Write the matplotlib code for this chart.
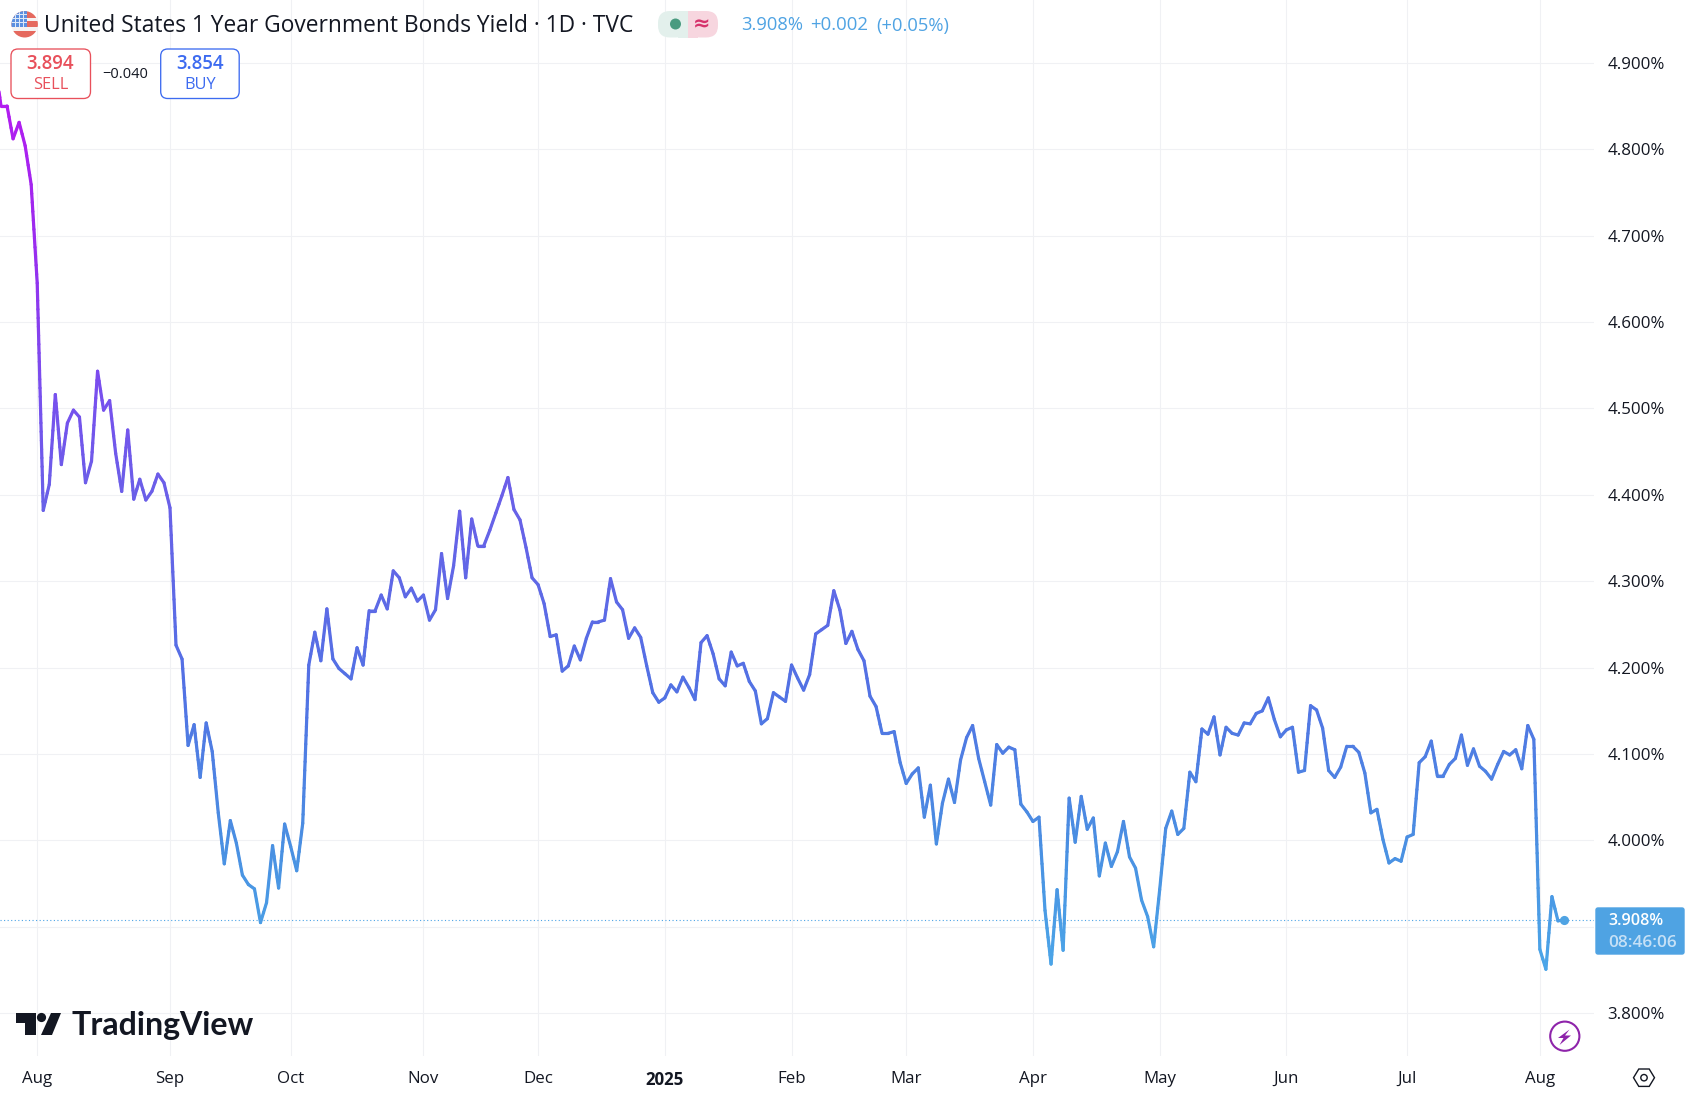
import numpy as np
import matplotlib
matplotlib.use("Agg")
import matplotlib.pyplot as plt
from matplotlib.collections import LineCollection
from matplotlib.colors import LinearSegmentedColormap
from matplotlib.patches import Circle, FancyBboxPatch, Polygon, Rectangle

plt.rcParams['font.family'] = ['Open Sans', 'DejaVu Sans']

# the first value lies just left of the visible pane (bar -1)
yields = [
    4.90, 4.85, 4.85, 4.812, 4.831, 4.804, 4.759, 4.645, 4.382, 4.412, 4.516, 4.435, 4.483, 4.498, 4.49, 4.414,
    4.439, 4.543, 4.498, 4.509, 4.448, 4.404, 4.475, 4.395, 4.418, 4.394, 4.404, 4.424, 4.414, 4.385,
    4.226, 4.21, 4.11, 4.134, 4.073, 4.136, 4.103, 4.032, 3.973, 4.023, 3.997, 3.96, 3.949, 3.944, 3.905,
    3.928, 3.994, 3.945, 4.019, 3.993, 3.965, 4.02,
    4.203, 4.241, 4.208, 4.268, 4.21, 4.199, 4.193, 4.187, 4.223, 4.203, 4.266, 4.266, 4.284, 4.268, 4.312,
    4.304, 4.282, 4.292, 4.277, 4.284, 4.255, 4.267, 4.332, 4.28, 4.318, 4.381, 4.304, 4.372, 4.341, 4.341,
    4.359, 4.379, 4.399, 4.42,
    4.383, 4.371, 4.339, 4.304, 4.296, 4.274, 4.236, 4.238, 4.196, 4.202, 4.225, 4.209, 4.234, 4.253, 4.253,
    4.255, 4.303, 4.276, 4.267, 4.234, 4.246, 4.235, 4.202, 4.171, 4.16, 4.165, 4.18, 4.172, 4.189, 4.177,
    4.163, 4.229, 4.237, 4.216, 4.187, 4.179, 4.218, 4.202, 4.205, 4.184, 4.173, 4.135, 4.141, 4.171, 4.166,
    4.161, 4.203, 4.188, 4.174, 4.192, 4.239, 4.244, 4.249, 4.289, 4.267, 4.228, 4.242, 4.221, 4.208, 4.167,
    4.155, 4.124, 4.124, 4.126, 4.09, 4.066, 4.077, 4.084, 4.027, 4.064, 3.996, 4.043, 4.071, 4.044, 4.093,
    4.119, 4.133, 4.095, 4.068, 4.041, 4.111, 4.101, 4.108, 4.105, 4.042, 4.033, 4.022, 4.027, 3.919, 3.857,
    3.943, 3.873, 4.049, 3.998, 4.051, 4.013, 4.026, 3.959, 3.997, 3.97, 3.987, 4.022, 3.981, 3.968, 3.931,
    3.912, 3.877, 3.943, 4.014, 4.034, 4.007, 4.014, 4.079,
    4.068, 4.129, 4.123, 4.143, 4.099, 4.131, 4.124, 4.122, 4.136, 4.135, 4.147, 4.15, 4.165, 4.14, 4.12,
    4.128, 4.131, 4.079, 4.081, 4.156, 4.151, 4.13, 4.081, 4.073, 4.085, 4.109, 4.109, 4.102, 4.078, 4.032,
    4.036, 4.001, 3.974, 3.979, 3.976, 4.004, 4.007, 4.09, 4.097, 4.115, 4.075, 4.075, 4.088, 4.095, 4.122,
    4.087, 4.106, 4.086, 4.08, 4.071, 4.088, 4.103, 4.099, 4.105, 4.083, 4.133, 4.117, 3.874, 3.851, 3.935,
    3.907, 3.908,
]
month_bars = [6, 28, 48, 70, 89, 110, 131, 150, 171, 192, 213, 233, 255]
month_labels = ['Aug', 'Sep', 'Oct', 'Nov', 'Dec', '2025', 'Feb', 'Mar', 'Apr', 'May', 'Jun', 'Jul', 'Aug']
price_ticks = [4.9, 4.8, 4.7, 4.6, 4.5, 4.4, 4.3, 4.2, 4.1, 4.0, 3.9, 3.8]
price_labels = ['4.900%', '4.800%', '4.700%', '4.600%', '4.500%', '4.400%', '4.300%', '4.200%', '4.100%',
                '4.000%', '', '3.800%']  # the 3.900% label sits behind the last-price tag
last_price = 3.908

W, H = 1691, 1098
fig = plt.figure(figsize=(W / 100, H / 100), dpi=100, facecolor='white')
pane_r, pane_b = 1594, 1056
ax = fig.add_axes([0, 1 - pane_b / H, pane_r / W, pane_b / H])
ax.set_xlim(-0.166, 263.97)
ax.set_ylim(3.7506, 4.9726)
for s in ax.spines.values():
    s.set_visible(False)

GRID = '#F0F1F4'
ax.set_axisbelow(True)
ax.grid(True, color=GRID, lw=0.75)
ax.yaxis.tick_right()
ax.set_yticks(price_ticks)
ax.set_yticklabels(price_labels)
ax.set_xticks(month_bars)
ax.set_xticklabels(month_labels)
ax.tick_params(axis='both', length=0, labelsize=12.2, labelcolor='#131722')
ax.tick_params(axis='y', pad=9.6)
ax.tick_params(axis='x', pad=11)
ax.get_xticklabels()[5].set_fontweight('bold')

xs = np.arange(len(yields)) - 1
ys = np.array(yields)
cmap = LinearSegmentedColormap.from_list('tv', [
    (0.0, '#4BA6E8'), (0.14, '#4A90E2'), (0.32, '#5272E4'), (0.54, '#6A60E8'),
    (0.66, '#7850EE'), (0.83, '#9A2BEF'), (1.0, '#B41CF0')])

ax.plot(xs, ys, color='#5A70E5', lw=1.5, zorder=3, solid_joinstyle='round')
# stroke colour follows height: each drawn segment is split for a smooth gradient
segs, cols = [], []
lo, hi = 3.85, 4.86
for i in range(len(xs) - 1):
    n = max(1, int(abs(ys[i + 1] - ys[i]) / 0.01))
    tx = np.linspace(xs[i], xs[i + 1], n + 1)
    ty = np.linspace(ys[i], ys[i + 1], n + 1)
    for j in range(n):
        segs.append([(tx[j], ty[j]), (tx[j + 1], ty[j + 1])])
        cols.append(cmap(np.clip(((ty[j] + ty[j + 1]) / 2 - lo) / (hi - lo), 0, 1)))
ax.add_collection(LineCollection(segs, colors=cols, linewidths=2.3, capstyle='round', zorder=4))

ax.axhline(last_price, color='#4BA3E6', lw=0.8, ls=(0, (1, 2.2)), zorder=2)
ax.plot([xs[-1]], [ys[-1]], 'o', color='#4FA3E3', ms=6.6, zorder=5, mew=0)

# overlay in pixel space for the TradingView furniture
ov = fig.add_axes([0, 0, 1, 1], facecolor='none')
ov.set_xlim(0, W)
ov.set_ylim(H, 0)
ov.axis('off')

# price tag
ov.add_patch(FancyBboxPatch((1596, 908), 88, 46, boxstyle='round,pad=0,rounding_size=2', fc='#4FA3E3', ec='#4FA3E3', lw=1))
ov.text(1608, 921, '3.908%', color='white', fontsize=11.6, ha='left', va='center', fontweight='semibold')
ov.text(1608, 943, '08:46:06', color='#C5E0F6', fontsize=12.4, ha='left', va='center', fontweight='semibold')

# header: flag
clip = Circle((24.7, 24.3), 13.2, transform=ov.transData)
flag_bands = [(10, 18, '#E5695E'), (18, 21, '#F6F2F1'), (21, 27, '#E5695E'), (27, 31, '#F6F2F1'), (31, 39, '#E5695E')]
for y0, y1, c in flag_bands:
    ov.add_patch(Rectangle((10, y0), 30, y1 - y0, fc=c, ec='none', clip_path=clip))
ov.add_patch(Rectangle((10, 10), 17, 17, fc='#5B8FE0', ec='none', clip_path=clip))
for yy in (14, 18, 22):
    ov.add_patch(Rectangle((10, yy), 17, 1.2, fc='#DDE8F8', ec='none', clip_path=clip))
for xx in (15, 19, 23):
    ov.add_patch(Rectangle((xx, 10), 1.2, 17, fc='#DDE8F8', ec='none', clip_path=clip))

ov.text(44, 26.5, 'United States 1 Year Government Bonds Yield · 1D · TVC', fontsize=16.4, color='#131722', ha='left', va='center')

ov.add_patch(FancyBboxPatch((658, 11), 30, 26.5, boxstyle='round,pad=0,rounding_size=12', fc='#E3F0EC', ec='none'))
ov.add_patch(FancyBboxPatch((688, 11), 30, 26.5, boxstyle='round,pad=0,rounding_size=12', fc='#F7D6DF', ec='none'))
ov.add_patch(Rectangle((678, 11), 10, 26.5, fc='#E3F0EC', ec='none'))
ov.add_patch(Rectangle((688, 11), 10, 26.5, fc='#F7D6DF', ec='none'))
ov.add_patch(Circle((675.5, 24), 5.5, fc='#4A9B80', ec='none'))
ov.text(702, 24, '≈', color='#D6336C', fontsize=15, ha='center', va='center', fontweight='bold', family=['DejaVu Sans'])
ov.text(741.5, 25.5, '3.908%', color='#4FA3E3', fontsize=13.2, ha='left', va='center')
ov.text(810.5, 25.5, '+0.002', color='#4FA3E3', fontsize=13.4, ha='left', va='center')
ov.text(876.5, 25.5, '(+0.05%)', color='#4FA3E3', fontsize=13.2, ha='left', va='center')

ov.add_patch(FancyBboxPatch((11, 49), 79.5, 49.5, boxstyle='round,pad=0,rounding_size=7', fc='white', ec='#E8505B', lw=0.95))
ov.text(50.5, 64, '3.894', color='#E8505B', fontsize=13.4, ha='center', va='center', fontweight='semibold')
ov.text(50.5, 85, 'SELL', color='#E8505B', fontsize=11.8, ha='center', va='center')
ov.text(125.6, 75, '−0.040', color='#131722', fontsize=10.5, ha='center', va='center')
ov.add_patch(FancyBboxPatch((160.7, 49), 78.5, 49.5, boxstyle='round,pad=0,rounding_size=7', fc='white', ec='#3D6BF0', lw=0.95))
ov.text(200, 64, '3.854', color='#3D6BF0', fontsize=13.4, ha='center', va='center', fontweight='semibold')
ov.text(200, 85, 'BUY', color='#3D6BF0', fontsize=11.8, ha='center', va='center')

# TradingView logo
ov.add_patch(Polygon([(16, 1013), (36, 1013), (36, 1035), (25, 1035), (25, 1023), (16, 1023)], fc='#131722', ec='none'))
ov.add_patch(Circle((41.5, 1017.5), 4.6, fc='#131722', ec='none'))
ov.add_patch(Polygon([(51, 1013), (61, 1013), (52, 1035), (41, 1035)], fc='#131722', ec='none'))
ov.text(71.5, 1025, 'TradingView', color='#131722', fontsize=23.1, ha='left', va='center', fontweight='bold', family=['Lato', 'DejaVu Sans'])

# lightning badge
ov.add_patch(Circle((1564.8, 1036.2), 14.6, fc='white', ec='#8E24AA', lw=1.5))
ov.add_patch(Polygon([(1569.5, 1029.5), (1558, 1038), (1563.5, 1038), (1559.5, 1045), (1571, 1035.5), (1565, 1035.5)], fc='#8E24AA', ec='none'))

# settings hexagon
ov.add_patch(Polygon([(1633.5, 1077.7), (1638.8, 1069), (1649.2, 1069), (1654.5, 1077.7), (1649.2, 1086.4), (1638.8, 1086.4)], fc='none', ec='#131722', lw=1))
ov.add_patch(Circle((1644, 1077.7), 3.2, fc='none', ec='#131722', lw=1))

fig.savefig('out.png', dpi=100)
